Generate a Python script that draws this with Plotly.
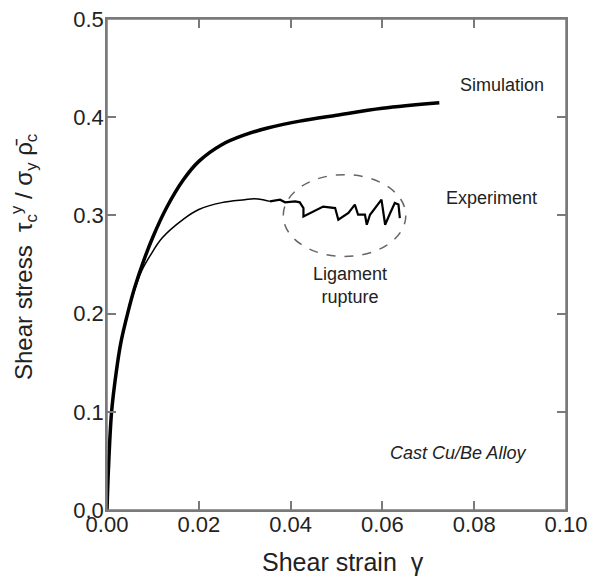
import plotly.graph_objects as go

# Simulation curve (thick)
sim_strain = [0.0, 0.0003, 0.001, 0.002, 0.003, 0.0046, 0.006, 0.008, 0.010, 0.013,
              0.0166, 0.020, 0.025, 0.030, 0.035, 0.042, 0.050, 0.060, 0.0724]
sim_stress = [0.0, 0.040, 0.100, 0.140, 0.170, 0.202, 0.226, 0.254, 0.278, 0.308,
              0.336, 0.355, 0.372, 0.382, 0.389, 0.396, 0.402, 0.409, 0.4146]

# Experiment, smooth part (thin)
exp_strain = [0.0, 0.0003, 0.001, 0.002, 0.003, 0.0046, 0.006, 0.0075, 0.0094, 0.012,
              0.0166, 0.020, 0.025, 0.030, 0.032, 0.034, 0.0355]
exp_stress = [0.0, 0.040, 0.100, 0.140, 0.170, 0.202, 0.224, 0.243, 0.259, 0.277,
              0.296, 0.306, 0.313, 0.316, 0.317, 0.316, 0.3143]

# Experiment, ligament rupture part (jagged)
rup_strain = [0.0355, 0.0377, 0.0388, 0.041, 0.042, 0.0428, 0.0428, 0.045, 0.0471,
              0.0497, 0.0504, 0.0526, 0.054, 0.0547, 0.0562, 0.0566, 0.0573, 0.0598,
              0.0606, 0.0617, 0.0627, 0.0635, 0.0638]
rup_stress = [0.3143, 0.316, 0.3133, 0.3143, 0.3133, 0.3075, 0.299, 0.304, 0.309,
              0.3075, 0.2956, 0.3024, 0.311, 0.3007, 0.3007, 0.2905, 0.3007, 0.316,
              0.2905, 0.3024, 0.3126, 0.311, 0.2973]

# Ellipse around rupture region (data coords)
ell_x = [0.0384, 0.0651]
ell_y = [0.2582, 0.3415]

FONT = "Liberation Sans, Arial, Helvetica, sans-serif"
AX = "#7a7a7a"
TXT = "#222222"

fig = go.Figure()
fig.add_trace(go.Scatter(x=sim_strain, y=sim_stress, mode="lines",
                         line=dict(color="black", width=3.5, shape="spline"),
                         showlegend=False, hoverinfo="skip"))
fig.add_trace(go.Scatter(x=exp_strain, y=exp_stress, mode="lines",
                         line=dict(color="black", width=1.5, shape="spline"),
                         showlegend=False, hoverinfo="skip"))
fig.add_trace(go.Scatter(x=rup_strain, y=rup_stress, mode="lines",
                         line=dict(color="black", width=2.2),
                         showlegend=False, hoverinfo="skip"))

fig.add_shape(type="circle", xref="x", yref="y",
              x0=ell_x[0], x1=ell_x[1], y0=ell_y[0], y1=ell_y[1],
              line=dict(color="#666666", width=1.5, dash="dash"))
# plot frame
fig.add_shape(type="rect", xref="paper", yref="paper", x0=0, x1=1, y0=0, y1=1,
              line=dict(color=AX, width=1.5), layer="above")

ann_font = dict(family=FONT, size=18, color=TXT)
fig.add_annotation(x=0.086, y=0.433, text="Simulation", showarrow=False, font=ann_font)
fig.add_annotation(x=0.0837, y=0.3175, text="Experiment", showarrow=False, font=ann_font)
fig.add_annotation(x=0.0529, y=0.229, text="Ligament<br>rupture", showarrow=False, font=ann_font)
fig.add_annotation(x=0.0765, y=0.058, text="<i>Cast Cu/Be Alloy</i>", showarrow=False, font=ann_font)

# Axis titles
fig.add_annotation(xref="paper", yref="paper", x=0.514, y=-0.1386,
                   text="Shear strain  γ", showarrow=False,
                   font=dict(family=FONT, size=25, color=TXT))
fig.add_annotation(xref="paper", yref="paper", x=-0.2225, y=0.515, textangle=-90,
                   text="Shear stress  τ<sub>c</sub><sup>y</sup> / σ<sub>y</sub> ρ̄<sub>c</sub>",
                   showarrow=False,
                   font=dict(family=FONT, size=24, color=TXT))

axis_common = dict(showline=True, linecolor=AX, linewidth=1.5, mirror="ticks",
                   ticks="inside", ticklen=9, tickwidth=1.5, tickcolor=AX,
                   showgrid=False, zeroline=False, automargin=False,
                   ticklabeloverflow="allow",
                   tickfont=dict(family=FONT, size=22, color=TXT))

fig.update_xaxes(range=[0, 0.1], tickvals=[0, 0.02, 0.04, 0.06, 0.08, 0.10],
                 tickformat=".2f", ticklabelstandoff=-6, **axis_common)
fig.update_yaxes(range=[0, 0.5], tickvals=[0, 0.1, 0.2, 0.3, 0.4, 0.5],
                 tickformat=".1f", ticklabelstandoff=-3, **axis_common)

fig.update_layout(width=599, height=579,
                  margin=dict(l=107, r=33, t=19, b=69),
                  paper_bgcolor="white", plot_bgcolor="white",
                  font=dict(family=FONT))

fig.write_html("out.html", config={"displayModeBar": False},
               post_script="document.body.style.margin='0px';")
